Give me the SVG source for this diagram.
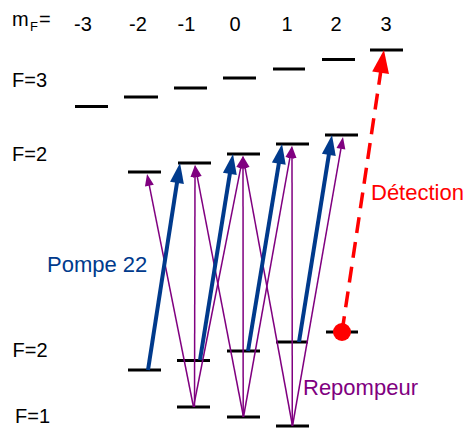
<svg xmlns="http://www.w3.org/2000/svg" width="465" height="429" viewBox="0 0 465 429">
<style>
text{font-family:"Liberation Sans",Arial,sans-serif;font-size:20px;fill:#000}
.lvl{stroke:#000;stroke-width:3;fill:none}
.pump{stroke:#003A8C;stroke-width:4;fill:none;marker-end:url(#hb)}
.rep{stroke:#800080;stroke-width:1.5;fill:none;marker-end:url(#hp)}
.det{stroke:#FF0000;stroke-width:3.5;fill:none;stroke-dasharray:16 9;marker-end:url(#hr)}
.lab{font-size:22px}
</style>
<defs>
<marker id="hb" markerUnits="userSpaceOnUse" viewBox="-8 -7 20 14" markerWidth="20" markerHeight="14" refX="0" refY="0" orient="auto" overflow="visible">
<path d="M12,0 L-8,-7 L-8,7 Z" fill="#003A8C"/>
</marker>
<marker id="hp" markerUnits="userSpaceOnUse" viewBox="-4 -4.5 12 9" markerWidth="12" markerHeight="9" refX="0" refY="0" orient="auto" overflow="visible">
<path d="M8,0 L-4,-4.5 L-4,4.5 Z" fill="#800080"/>
</marker>
<marker id="hr" markerUnits="userSpaceOnUse" viewBox="-9 -8.5 23 17" markerWidth="23" markerHeight="17" refX="0" refY="0" orient="auto" overflow="visible">
<path d="M14,0 L-9,-8.5 L-9,8.5 Z" fill="#FF0000"/>
</marker>
</defs>

<g id="header">
<text x="12" y="26">m</text>
<text x="30" y="31" style="font-size:13px">F</text>
<text x="39" y="26">=</text>
<g text-anchor="middle">
<text x="83" y="30.5">-3</text>
<text x="138" y="30.5">-2</text>
<text x="186.5" y="30.5">-1</text>
<text x="235" y="30.5">0</text>
<text x="287" y="30.5">1</text>
<text x="336" y="30.5">2</text>
<text x="386" y="30.5">3</text>
</g>
</g>

<g id="labels-F">
<text x="12" y="87">F=3</text>
<text x="12" y="161">F=2</text>
<text x="12.5" y="357">F=2</text>
<text x="15" y="423">F=1</text>
</g>

<g id="F3-levels">
<line class="lvl" x1="75" y1="106.5" x2="108" y2="106.5"/>
<line class="lvl" x1="124" y1="97" x2="158" y2="97"/>
<line class="lvl" x1="174" y1="88" x2="207" y2="88"/>
<line class="lvl" x1="223" y1="78" x2="256" y2="78"/>
<line class="lvl" x1="273" y1="69" x2="305" y2="69"/>
<line class="lvl" x1="322" y1="59.5" x2="355" y2="59.5"/>
<line class="lvl" x1="370" y1="50" x2="403" y2="50"/>
</g>

<g id="F2p-levels">
<line class="lvl" x1="128" y1="172" x2="161" y2="172"/>
<line class="lvl" x1="178" y1="163" x2="211" y2="163"/>
<line class="lvl" x1="227" y1="154" x2="260" y2="154"/>
<line class="lvl" x1="276" y1="144" x2="309" y2="144"/>
<line class="lvl" x1="325" y1="135" x2="358" y2="135"/>
</g>

<g id="F2-levels">
<line class="lvl" x1="128" y1="370" x2="161" y2="370"/>
<line class="lvl" x1="177" y1="360.5" x2="210" y2="360.5"/>
<line class="lvl" x1="227" y1="351" x2="260" y2="351"/>
<line class="lvl" x1="276" y1="342" x2="308" y2="342"/>
<line class="lvl" x1="326" y1="332" x2="358" y2="332"/>
</g>

<g id="F1-levels">
<line class="lvl" x1="177" y1="407" x2="210" y2="407"/>
<line class="lvl" x1="227" y1="417" x2="260" y2="417"/>
<line class="lvl" x1="276" y1="426" x2="309" y2="426"/>
</g>

<g id="connectors">
<g id="repumper">
<line class="rep" x1="193.5" y1="407" x2="148.6" y2="181.8"/>
<line class="rep" x1="194.5" y1="407" x2="195" y2="173"/>
<line class="rep" x1="193.5" y1="407" x2="241.5" y2="163.9"/>
<line class="rep" x1="243.5" y1="417" x2="196.5" y2="172.9"/>
<line class="rep" x1="243.2" y1="417" x2="243" y2="164"/>
<line class="rep" x1="243.5" y1="417" x2="290.6" y2="153.9"/>
<line class="rep" x1="292.5" y1="426" x2="244.4" y2="163.9"/>
<line class="rep" x1="292.3" y1="426" x2="292" y2="154"/>
<line class="rep" x1="292.5" y1="426" x2="341.6" y2="144.9"/>
</g>
<g id="pump">
<line class="pump" x1="148" y1="370" x2="178.2" y2="174.9"/>
<line class="pump" x1="200" y1="360" x2="231.1" y2="165.9"/>
<line class="pump" x1="248" y1="351" x2="280.1" y2="155.8"/>
<line class="pump" x1="299" y1="342" x2="330.1" y2="146.9"/>
</g>
<g id="detection">
<line class="det" x1="342" y1="332" x2="381.9" y2="63.8"/>
</g>
</g>

<g id="atom">
<circle cx="342" cy="332" r="9" fill="#FF0000"/>
</g>

<g id="text-labels">
<text class="lab" x="47" y="272" style="fill:#003A8C">Pompe 22</text>
<text class="lab" x="371" y="200" style="fill:#FF0000">Détection</text>
<text class="lab" x="303" y="395" style="fill:#800080">Repompeur</text>
</g>
</svg>
